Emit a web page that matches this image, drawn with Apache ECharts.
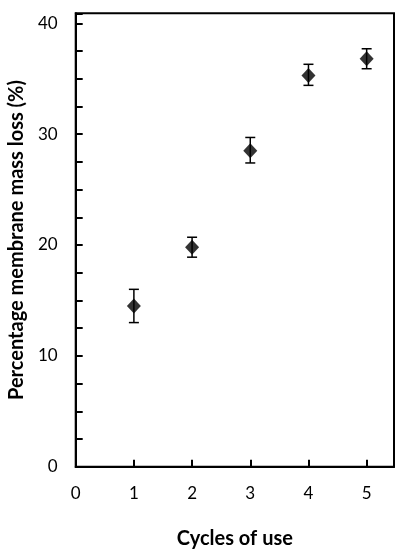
<!DOCTYPE html>
<html><head><meta charset="utf-8">
<script src="https://cdn.jsdelivr.net/npm/echarts@6/dist/echarts.min.js"></script>
<style>html,body{margin:0;padding:0;background:#fff}#c{width:411px;height:550px}</style>
</head><body><div id="c"></div>
<script>
const cycles = [1, 2, 3, 4, 5];
const massLoss = [14.5, 19.8, 28.5, 35.3, 36.8];
const errLow = [13.0, 18.9, 27.4, 34.4, 35.9];
const errHigh = [16.0, 20.7, 29.7, 36.3, 37.7];
const xTicks = [0, 1, 2, 3, 4, 5];
const yTicks = [0, 10, 20, 30, 40];

const font = 'Lato, "Open Sans", sans-serif';
const chart = echarts.init(document.getElementById('c'));
chart.setOption({
  animation: false,
  grid: {left: 75.7, right: 17, top: 13.3, bottom: 83.3, containLabel: false, outerBoundsMode: 'none',
    show: true, borderColor: '#000', borderWidth: 2, backgroundColor: 'transparent'},
  xAxis: {
    type: 'value', min: 0, max: 5.47, interval: 1,
    name: 'Cycles of use', nameLocation: 'middle', nameGap: 62,
    nameTextStyle: {fontFamily: font, fontSize: 20, fontWeight: 'bold', color: '#000'},
    axisLine: {lineStyle: {color: '#000', width: 2}},
    axisTick: {inside: true, length: 7, lineStyle: {color: '#000', width: 2}},
    axisLabel: {margin: 18, fontFamily: font, fontSize: 17, color: '#000',
      formatter: v => xTicks.includes(v) ? String(v) : ''},
    splitLine: {show: false}
  },
  yAxis: {
    type: 'value', min: 0, max: 40.9, interval: 2.5,
    name: 'Percentage membrane mass loss (%)', nameLocation: 'middle', nameGap: 49,
    nameTextStyle: {fontFamily: font, fontSize: 20, fontWeight: 'bold', color: '#000'},
    axisLine: {lineStyle: {color: '#000', width: 2}},
    axisTick: {inside: true, length: 7, lineStyle: {color: '#000', width: 2}},
    axisLabel: {margin: 18, fontFamily: font, fontSize: 17, color: '#000',
      formatter: v => yTicks.includes(v) ? String(v) : ''},
    splitLine: {show: false}
  },
  series: [
    {
      type: 'custom',
      data: cycles.map((c, i) => [c, errLow[i], errHigh[i]]),
      renderItem: (params, api) => {
        const lo = api.coord([api.value(0), api.value(1)]);
        const hi = api.coord([api.value(0), api.value(2)]);
        const w = 5;
        const st = {stroke: '#000', lineWidth: 1.5};
        return {type: 'group', children: [
          {type: 'line', shape: {x1: lo[0], y1: lo[1], x2: hi[0], y2: hi[1]}, style: st},
          {type: 'line', shape: {x1: lo[0]-w, y1: lo[1], x2: lo[0]+w, y2: lo[1]}, style: st},
          {type: 'line', shape: {x1: hi[0]-w, y1: hi[1], x2: hi[0]+w, y2: hi[1]}, style: st}
        ]};
      },
      z: 2
    },
    {
      type: 'scatter',
      data: cycles.map((c, i) => [c, massLoss[i]]),
      symbol: 'diamond', symbolSize: [14, 15],
      itemStyle: {color: '#000'},
      z: 3
    }
  ]
});
</script></body></html>
